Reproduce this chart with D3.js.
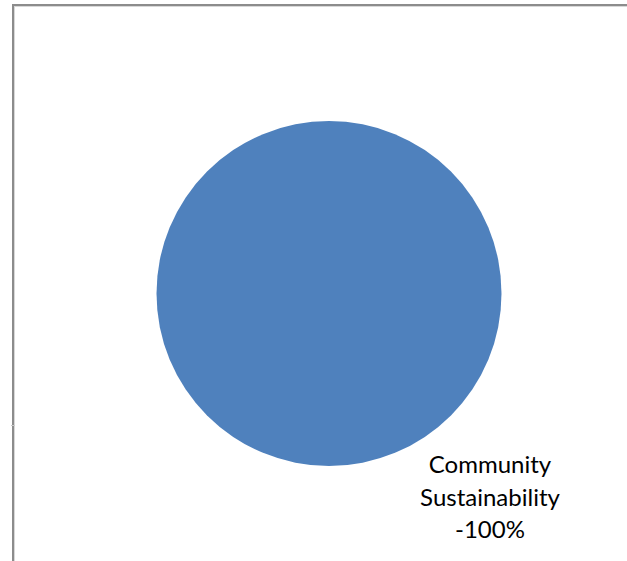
<!DOCTYPE html>
<html><head><meta charset="utf-8">
<script src="https://cdn.jsdelivr.net/npm/d3@7"></script>
<style>html,body{margin:0;padding:0;background:#fff;overflow:hidden}</style>
</head><body>
<svg id="chart" width="627" height="561"></svg>
<script>
const categories = ["Community Sustainability"];
const values = [100];
const labelLines = [["Community", "Sustainability", "-100%"]];
const colors = ["#4F81BD"];

const svg = d3.select("#chart");
// chart area border (extends past the visible window)
svg.append("rect").attr("x", 13).attr("y", 5).attr("width", 700).attr("height", 700)
  .attr("fill", "#fff").attr("stroke", "#8c8c8c").attr("stroke-width", 2);
svg.append("rect").attr("x", 14.5).attr("y", 6.5).attr("width", 700).attr("height", 700)
  .attr("fill", "none").attr("stroke", "#d8d8d8").attr("stroke-width", 1);
svg.append("line").attr("x1", 11).attr("x2", 15).attr("y1", 425.5).attr("y2", 425.5)
  .attr("stroke", "#c8c8c8").attr("stroke-width", 1);

const cx = 329, cy = 293.5, r = 172.5;
const pie = d3.pie().sort(null).value(d => d);
const arc = d3.arc().innerRadius(0).outerRadius(r);
const g = svg.append("g").attr("transform", `translate(${cx},${cy})`);
g.selectAll("path").data(pie(values)).join("path")
  .attr("d", arc).attr("fill", (d, i) => colors[i]);

const lbl = svg.append("text").attr("text-anchor", "middle")
  .attr("font-family", "Lato, 'Open Sans', sans-serif").attr("font-size", 24).attr("fill", "#000");
labelLines[0].forEach((t, i) => {
  lbl.append("tspan").attr("x", 490).attr("y", 473 + i * 32.5).text(t);
});
</script>
</body></html>
